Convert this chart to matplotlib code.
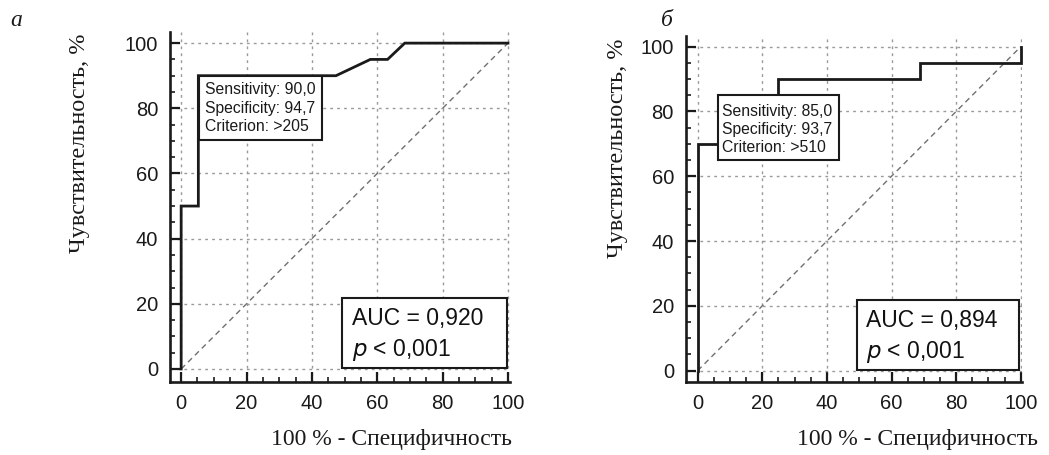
import matplotlib
matplotlib.use("Agg")
import matplotlib.pyplot as plt
from matplotlib.patches import Rectangle
from matplotlib.ticker import MultipleLocator

# ROC curve a: 1 - specificity (%) and sensitivity (%)
fpr_a = [0, 0, 5.26, 5.26, 47.37, 57.89, 63.16, 68.42, 100]
tpr_a = [0, 50, 50, 90, 90, 95, 95, 100, 100]
# ROC curve b
fpr_b = [0, 0, 6.25, 6.25, 25, 25, 68.75, 68.75, 100, 100]
tpr_b = [0, 70, 70, 85, 85, 90, 90, 95, 95, 100]

letters = ["а", "б"]
cut_texts = ["Sensitivity: 90,0\nSpecificity: 94,7\nCriterion: >205",
             "Sensitivity: 85,0\nSpecificity: 93,7\nCriterion: >510"]
auc_texts = ["AUC = 0,920", "AUC = 0,894"]
p_text = r"$\it{p}$ < 0,001"
ticks = [0, 20, 40, 60, 80, 100]

SANS = "Liberation Sans"
SERIF = "Liberation Serif"

fig = plt.figure(figsize=(10.49, 4.55), dpi=100)

# axes placement (fig fractions) and limits
panels = [
    dict(rect=[0.1621, 0.1604, 0.3237, 0.7699], xlim=(-3.4, 100.5), ylim=(-4.0, 103.5),
         fpr=fpr_a, tpr=tpr_a, cut_box=(5.5, 70.4, 37.6, 19.6), cut_xy=(7.3, 88.0)),
    dict(rect=[0.6537, 0.1598, 0.3209, 0.7611], xlim=(-3.7, 100.5), ylim=(-3.6, 103.3),
         fpr=fpr_b, tpr=tpr_b, cut_box=(6.3, 65.1, 37.5, 19.9), cut_xy=(7.6, 82.4)),
]

for i, p in enumerate(panels):
    ax = fig.add_axes(p["rect"])
    ax.set_xlim(*p["xlim"])
    ax.set_ylim(*p["ylim"])
    ax.spines["top"].set_visible(False)
    ax.spines["right"].set_visible(False)
    for s in ("left", "bottom"):
        ax.spines[s].set_linewidth(1.9)
        ax.spines[s].set_color("#1a1a1a")
    ax.set_xticks(ticks)
    ax.set_yticks(ticks)
    ax.xaxis.set_minor_locator(MultipleLocator(5))
    ax.yaxis.set_minor_locator(MultipleLocator(5))
    ax.tick_params(which="major", direction="in", length=7.5, width=1.6, color="#1a1a1a",
                   labelsize=14.5, pad=8.5)
    ax.tick_params(which="minor", direction="in", length=3.8, width=1.2, color="#1a1a1a")
    for lab in ax.get_xticklabels() + ax.get_yticklabels():
        lab.set_fontfamily(SANS)
        lab.set_color("#1a1a1a")
    ax.grid(True, which="major", color="#9a9a9a", linestyle=(0, (2, 3)), linewidth=1.0)

    # chance line
    ax.plot([0, 100], [0, 100], color="#707070", linestyle=(0, (4, 3)), linewidth=1.0, zorder=2)
    # ROC curve
    ax.plot(p["fpr"], p["tpr"], color="#1a1a1a", linewidth=2.0, zorder=3,
            solid_joinstyle="miter", clip_on=False)

    # criterion box
    bx, by, bw, bh = p["cut_box"]
    ax.add_patch(Rectangle((bx, by), bw, bh, facecolor="white", edgecolor="#1a1a1a",
                           linewidth=1.5, zorder=4))
    ax.text(p["cut_xy"][0], p["cut_xy"][1], cut_texts[i], fontsize=11.3, family=SANS,
            color="#1a1a1a", va="top", ha="left", linespacing=1.28, zorder=5)

    # AUC box
    ax.add_patch(Rectangle((49.3, 0.3), 50.3, 21.5, facecolor="white", edgecolor="#1a1a1a",
                           linewidth=1.5, zorder=4))
    ax.text(52.2, 13.5, auc_texts[i], fontsize=16.5, family=SANS, color="#111111",
            va="baseline", ha="left", zorder=5)
    ax.text(52.2, 4.0, p_text, fontsize=16.5, family=SANS, color="#111111",
            va="baseline", ha="left", zorder=5)

# axis titles and panel letters
fig.text(80 / 1049, 1 - 143 / 455, "Чувствительность, %", rotation=90, family=SERIF,
         fontsize=17.5, ha="center", va="center", color="#1a1a1a")
fig.text(617 / 1049, 1 - 148 / 455, "Чувствительность, %", rotation=90, family=SERIF,
         fontsize=17.5, ha="center", va="center", color="#1a1a1a")
fig.text(391 / 1049, 1 - 440 / 455, "100 % - Специфичность", family=SERIF,
         fontsize=17, ha="center", va="center", color="#1a1a1a")
fig.text(917 / 1049, 1 - 440 / 455, "100 % - Специфичность", family=SERIF,
         fontsize=17, ha="center", va="center", color="#1a1a1a")
fig.text(10 / 1049, 1 - 26 / 455, letters[0], family=SERIF, style="italic",
         fontsize=17, ha="left", va="baseline", color="#1a1a1a")
fig.text(661 / 1049, 1 - 26 / 455, letters[1], family=SERIF, style="italic",
         fontsize=17, ha="left", va="baseline", color="#1a1a1a")

fig.savefig("out.png", dpi=100)
